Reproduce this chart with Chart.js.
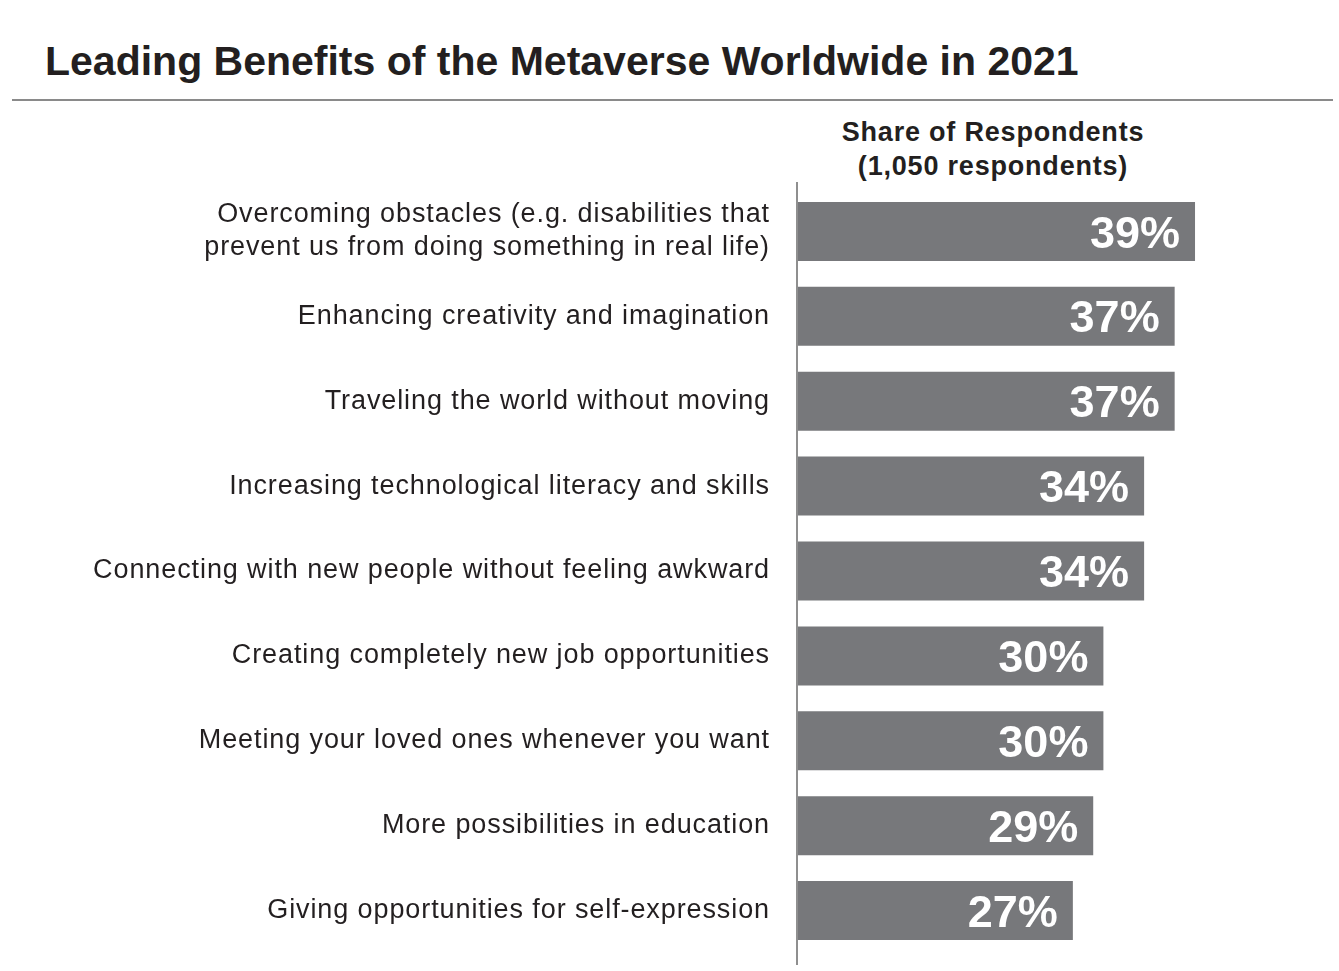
<!DOCTYPE html>
<html>
<head>
<meta charset="utf-8">
<script src="https://cdn.jsdelivr.net/npm/chart.js@4.4.0/dist/chart.umd.min.js"></script>
<style>
  html, body { margin: 0; padding: 0; background: #ffffff; }
  #wrap { position: relative; width: 1339px; height: 971px; overflow: hidden; font-family: "Liberation Sans", Arial, sans-serif; color: #231f20; }
  #title { position: absolute; left: 45px; top: 37px; font-size: 41px; font-weight: bold; line-height: 48px; white-space: nowrap; }
  #rule { position: absolute; left: 12px; top: 99px; width: 1321px; height: 2px; background: #8a8a8a; }
  #head { position: absolute; left: 793px; width: 400px; top: 115px; text-align: center; font-size: 27px; font-weight: bold; line-height: 34px; letter-spacing: 0.8px; }
  #c { position: absolute; left: 0; top: 0; }
</style>
</head>
<body>
<div id="wrap">
  <div id="title">Leading Benefits of the Metaverse Worldwide in 2021</div>
  <div id="rule"></div>
  <div id="head">Share of Respondents<br>(1,050 respondents)</div>
  <canvas id="c" width="1339" height="971"></canvas>
</div>
<script>
const categories = [
  ['Overcoming obstacles (e.g. disabilities that', 'prevent us from doing something in real life)'],
  'Enhancing creativity and imagination',
  'Traveling the world without moving',
  'Increasing technological literacy and skills',
  'Connecting with new people without feeling awkward',
  'Creating completely new job opportunities',
  'Meeting your loved ones whenever you want',
  'More possibilities in education',
  'Giving opportunities for self-expression'
];
const shareValues = [39, 37, 37, 34, 34, 30, 30, 29, 27];
const valueLabels = ['39%', '37%', '37%', '34%', '34%', '30%', '30%', '29%', '27%'];

const spacingPlugin = {
  id: 'labelSpacing',
  beforeLayout(chart) { chart.ctx.letterSpacing = '0.9px'; },
  beforeDraw(chart) { chart.ctx.letterSpacing = '0.9px'; },
  afterDatasetsDraw(chart) { chart.ctx.letterSpacing = '0px'; }
};

const valueLabelPlugin = {
  id: 'valueLabels',
  afterDatasetsDraw(chart) {
    const ctx = chart.ctx;
    const meta = chart.getDatasetMeta(0);
    ctx.save();
    ctx.letterSpacing = '0px';
    ctx.fillStyle = '#ffffff';
    ctx.font = 'bold 45px "Liberation Sans", Arial, sans-serif';
    ctx.textAlign = 'right';
    ctx.textBaseline = 'alphabetic';
    meta.data.forEach((bar, i) => {
      ctx.fillText(valueLabels[i], bar.x - 15, bar.y + 45 * 0.358);
    });
    ctx.restore();
  }
};

const axisLinePlugin = {
  id: 'axisLine',
  afterDraw(chart) {
    const ctx = chart.ctx;
    const x = chart.scales.x.getPixelForValue(0);
    ctx.save();
    ctx.strokeStyle = '#8f8f8f';
    ctx.lineWidth = 2;
    ctx.beginPath();
    ctx.moveTo(x - 1, chart.chartArea.top - 7);
    ctx.lineTo(x - 1, chart.chartArea.bottom + 12);
    ctx.stroke();
    ctx.restore();
  }
};

new Chart(document.getElementById('c'), {
  type: 'bar',
  data: {
    labels: categories,
    datasets: [{
      data: shareValues,
      backgroundColor: '#77787b',
      borderWidth: 0,
      categoryPercentage: 1,
      barPercentage: 0.695
    }]
  },
  options: {
    indexAxis: 'y',
    responsive: false,
    animation: false,
    layout: { padding: { top: 189, bottom: 18, left: 0, right: 32 } },
    plugins: { legend: { display: false }, tooltip: { enabled: false }, title: { display: false } },
    scales: {
      x: {
        min: 0, max: 50,
        display: false,
        grid: { display: false }
      },
      y: {
        afterFit(scale) {
          scale.width = 798;
          scale.paddingTop = 0;
          scale.paddingBottom = 0;
        },
        grid: { display: false, drawTicks: false },
        border: { display: false },
        ticks: {
          padding: 28,
          color: '#231f20',
          font: { family: '"Liberation Sans", Arial, sans-serif', size: 27, lineHeight: 1.22 }
        }
      }
    }
  },
  plugins: [spacingPlugin, valueLabelPlugin, axisLinePlugin]
});
</script>
</body>
</html>
